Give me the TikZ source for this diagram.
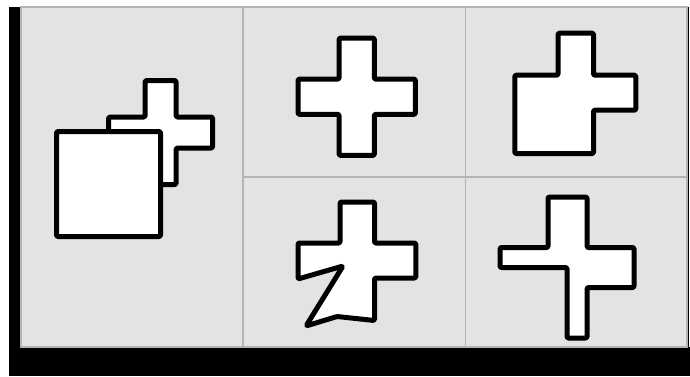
\documentclass[tikz,border=0pt]{standalone}
\usepackage{xcolor}
\usepackage{tikz}
\definecolor{cPanel}{HTML}{E4E3E4}
\definecolor{cGrid}{HTML}{B4B4B4}
\tikzset{
  panel/.style={fill=cPanel,draw=cGrid,line width=1.2pt},
  gridline/.style={draw=cGrid,line width=1.3pt},
  bar/.style={fill=black,draw=none},
  piece/.style={draw=black,fill=white,line width=5pt,line join=round,rounded corners=1.2pt},
}
% plus sign: centre x, centre y, half extent, half arm width
\newcommand{\plusat}[4]{%
  \begin{scope}[shift={(#1,#2)}]
    \draw[piece] (-#4,-#3) -- (#4,-#3) -- (#4,-#4) -- (#3,-#4) -- (#3,#4) -- (#4,#4)
      -- (#4,#3) -- (-#4,#3) -- (-#4,#4) -- (-#3,#4) -- (-#3,-#4) -- (-#4,-#4) -- cycle;
  \end{scope}}

\begin{document}
\begin{tikzpicture}[x=1pt,y=-1pt]
  \useasboundingbox[fill=white] (0,0) rectangle (690,376);
  % frame
  \fill[bar] (9,7) rectangle (21,376);
  \fill[bar] (9,347) rectangle (690,376);
  \fill[bar] (687,7) rectangle (689,347);
  \path[panel] (21,7) rectangle (687,347);
  \draw[gridline] (243,7) -- (243,347);
  \draw[gridline] (465.5,7) -- (465.5,347);
  \draw[gridline] (243,177) -- (687,177);

  % left cell: plus behind a square
  \plusat{160.6}{132.5}{52}{15.5}
  \draw[piece] (56.5,131.5) rectangle (160.5,236.5);

  % top middle
  \plusat{356.7}{96.7}{58.7}{17.6}

  % top right: lower left quarter filled
  \draw[piece] (558,33.2) -- (593.5,33.2) -- (593.5,75.2) -- (635.8,75.2) -- (635.8,110.2)
    -- (593.5,110.2) -- (593.5,153.5) -- (514.8,153.5) -- (514.8,75.2) -- (558,75.2) -- cycle;

  % bottom middle: torn lower left
  \draw[piece] (340,202) -- (374.5,202) -- (374.5,243) -- (415.8,243) -- (415.8,278)
    -- (374.5,278) -- (374.5,320.5) -- (337,316.5) -- (306,326) -- (343,266)
    -- (298,279) -- (298,243) -- (340,243) -- cycle;

  % bottom right: uneven arms
  \draw[piece] (548,197) -- (587,197) -- (587,247.5) -- (634,247.5) -- (634,287.5)
    -- (587,287.5) -- (587,338) -- (567,338) -- (567,267.5) -- (500,267.5)
    -- (500,247.5) -- (548,247.5) -- cycle;
\end{tikzpicture}
\end{document}
